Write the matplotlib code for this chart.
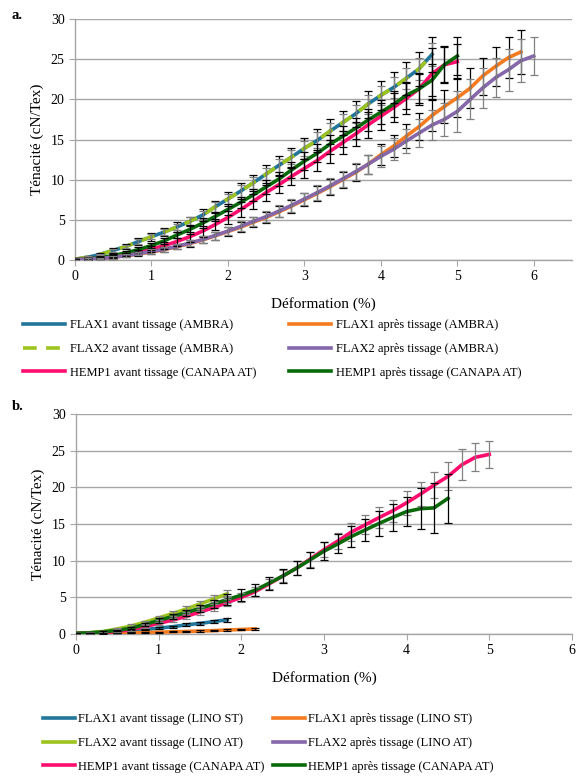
import matplotlib
matplotlib.use("Agg")
import matplotlib.pyplot as plt

plt.rcParams['font.family'] = ['Liberation Serif', 'DejaVu Serif']

# strain points (%), one every 1/6 %
x_pts = [0, 0.17, 0.33, 0.5, 0.67, 0.83, 1.0, 1.17, 1.33, 1.5, 1.67, 1.83,
         2.0, 2.17, 2.33, 2.5, 2.67, 2.83, 3.0, 3.17, 3.33, 3.5, 3.67, 3.83,
         4.0, 4.17, 4.33, 4.5, 4.67, 4.83, 5.0, 5.17, 5.33, 5.5, 5.67, 5.83, 6.0]

# ---- panel a: tenacity (cN/Tex) ----
a_flax1_av = [0.1, 0.35, 0.7, 1.2, 1.7, 2.3, 2.9, 3.5, 4.1, 4.8, 5.6, 6.6,
              7.6, 8.6, 9.6, 10.7, 11.8, 12.8, 13.9, 14.9, 16.0, 17.1, 18.2, 19.4,
              20.5, 21.5, 22.6, 23.8, 25.6]
a_flax2_av = [0.1, 0.35, 0.7, 1.2, 1.7, 2.3, 2.9, 3.5, 4.1, 4.8, 5.6, 6.6,
              7.6, 8.6, 9.6, 10.7, 11.8, 12.8, 13.9, 14.9, 16.0, 17.1, 18.2, 19.4,
              20.5, 21.5, 22.6, 23.8, 25.6]
a_hemp1_av = [0.05, 0.1, 0.2, 0.4, 0.65, 0.95, 1.35, 1.8, 2.3, 2.9, 3.6, 4.4,
              5.3, 6.3, 7.3, 8.4, 9.4, 10.4, 11.4, 12.4, 13.5, 14.6, 15.7, 16.8,
              17.9, 19.0, 20.1, 21.3, 23.2, 24.3, 24.7]
a_hemp1_ap = [0.1, 0.15, 0.3, 0.55, 0.9, 1.3, 1.8, 2.4, 3.1, 3.8, 4.6, 5.4,
              6.3, 7.2, 8.1, 9.1, 10.1, 11.2, 12.3, 13.3, 14.4, 15.4, 16.4, 17.4,
              18.4, 19.4, 20.5, 21.3, 22.4, 24.3, 25.4]
a_flax1_ap = [0.05, 0.1, 0.2, 0.35, 0.55, 0.75, 1.0, 1.3, 1.65, 2.05, 2.5, 3.0,
              3.55, 4.1, 4.7, 5.3, 6.0, 6.7, 7.5, 8.3, 9.1, 10.0, 10.9, 11.9,
              13.1, 14.2, 15.4, 16.6, 18.0, 19.1, 20.2, 21.4, 22.9, 24.1, 25.2, 25.9]
a_flax2_ap = [0.05, 0.1, 0.2, 0.35, 0.55, 0.8, 1.05, 1.35, 1.7, 2.1, 2.55, 3.05,
              3.6, 4.2, 4.8, 5.4, 6.1, 6.8, 7.6, 8.4, 9.2, 10.1, 11.0, 11.9,
              12.9, 13.8, 14.8, 15.8, 16.8, 17.5, 18.5, 20.0, 21.4, 22.7, 23.7, 24.8, 25.4]

a_err_flax1_av = [0.0, 0.1, 0.2, 0.3, 0.3, 0.4, 0.5, 0.5, 0.6, 0.6, 0.7, 0.8, 0.9, 1.0, 1.0,
                  1.1, 1.2, 1.2, 1.3, 1.4, 1.5, 1.5, 1.6, 1.7, 1.8, 1.9, 2.0, 2.1, 2.2]
a_err_flax2_av = [0.0, 0.1, 0.1, 0.2, 0.2, 0.3, 0.3, 0.4, 0.4, 0.5, 0.5, 0.6, 0.6, 0.7, 0.7,
                  0.8, 0.8, 0.9, 0.9, 1.0, 1.0, 1.1, 1.1, 1.2, 1.2, 1.3, 1.3, 1.4, 1.4]
a_err_hemp1_av = [0.0, 0.1, 0.1, 0.2, 0.2, 0.3, 0.4, 0.4, 0.5, 0.6, 0.6, 0.7, 0.8, 0.9, 0.9, 1.0,
                  1.1, 1.1, 1.2, 1.3, 1.4, 1.4, 1.5, 1.6, 1.7, 1.8, 1.9, 2.0, 3.2, 2.2, 2.2]
a_err_hemp1_ap = [0.0, 0.1, 0.1, 0.2, 0.2, 0.3, 0.3, 0.4, 0.4, 0.5, 0.6, 0.6, 0.7, 0.7, 0.8, 0.9,
                  0.9, 1.0, 1.1, 1.1, 1.2, 1.3, 1.3, 1.4, 1.5, 1.6, 1.7, 1.8, 2.0, 2.3, 2.4]
a_err_flax1_ap = [0.0, 0.1, 0.1, 0.2, 0.2, 0.2, 0.3, 0.3, 0.3, 0.4, 0.4, 0.5, 0.5, 0.6, 0.6, 0.7,
                  0.7, 0.8, 0.8, 0.9, 1.0, 1.0, 1.1, 1.2, 1.3, 1.4, 1.5, 1.7, 1.9, 2.1, 2.4, 2.5,
                  2.3, 2.4, 2.5, 2.7]
a_err_flax2_ap = [0.0, 0.1, 0.1, 0.2, 0.2, 0.2, 0.3, 0.3, 0.3, 0.4, 0.4, 0.5, 0.5, 0.6, 0.6, 0.7,
                  0.7, 0.8, 0.8, 0.9, 1.0, 1.0, 1.1, 1.2, 1.3, 1.4, 1.5, 1.7, 1.9, 2.1, 2.6, 2.5,
                  2.5, 2.4, 2.6, 2.7, 2.4]

# ---- panel b ----
b_flax1_av = [0.05, 0.1, 0.15, 0.25, 0.4, 0.6, 0.8, 1.0, 1.25, 1.45, 1.7, 1.95]
b_flax1_ap = [0.02, 0.05, 0.08, 0.12, 0.16, 0.2, 0.25, 0.3, 0.35, 0.4, 0.47, 0.55, 0.62, 0.7]
b_flax2_av = [0.1, 0.2, 0.35, 0.7, 1.1, 1.6, 2.2, 2.8, 3.4, 4.1, 4.8, 5.5]
b_flax2_ap = [0.1, 0.15, 0.3, 0.5, 0.8, 1.3, 1.85, 2.4, 2.9, 3.5, 4.1, 4.7]
b_hemp1_av = [0.05, 0.1, 0.2, 0.35, 0.6, 1.0, 1.45, 1.9, 2.4, 3.0, 3.6, 4.3,
              5.0, 5.8, 6.8, 7.9, 9.0, 10.2, 11.5, 12.7, 13.9, 14.9, 15.9, 16.8,
              17.9, 19.1, 20.3, 21.5, 23.1, 24.1, 24.5]
b_hemp1_ap = [0.1, 0.15, 0.3, 0.5, 0.8, 1.3, 1.85, 2.4, 2.9, 3.5, 4.1, 4.7,
              5.3, 6.0, 6.9, 7.9, 9.0, 10.1, 11.3, 12.3, 13.3, 14.2, 15.1, 15.9,
              16.7, 17.1, 17.2, 18.5]

b_err_flax1_av = [0.0, 0.05, 0.05, 0.1, 0.1, 0.1, 0.15, 0.15, 0.2, 0.2, 0.2, 0.25]
b_err_flax1_ap = [0.0, 0.02, 0.03, 0.04, 0.05, 0.06, 0.07, 0.08, 0.09, 0.1, 0.1, 0.12, 0.12, 0.15]
b_err_flax2_av = [0.0, 0.05, 0.1, 0.15, 0.2, 0.2, 0.3, 0.3, 0.4, 0.4, 0.5, 0.5]
b_err_flax2_ap = [0.0, 0.05, 0.1, 0.15, 0.2, 0.2, 0.3, 0.3, 0.4, 0.4, 0.5, 0.5]
b_err_hemp1_av = [0.0, 0.05, 0.1, 0.1, 0.15, 0.2, 0.25, 0.3, 0.35, 0.4, 0.5, 0.5, 0.6, 0.6, 0.7,
                  0.8, 0.9, 1.0, 1.0, 1.1, 1.2, 1.3, 1.4, 1.5, 1.6, 1.7, 1.8, 1.9, 2.1, 1.9, 1.8]
b_err_hemp1_ap = [0.0, 0.05, 0.1, 0.1, 0.15, 0.2, 0.3, 0.3, 0.4, 0.5, 0.6, 0.7, 0.8, 0.8,
                  0.9, 1.0, 1.0, 1.1, 1.2, 1.3, 1.4, 1.5, 1.7, 1.8, 2.0, 2.8, 3.4, 3.3]

BLUE = '#23769B'
LGREEN = '#9DC41E'
PINK = '#FF0D6E'
DGREEN = '#0A6A0A'
ORANGE = '#F47B20'
PURPLE = '#8567AA'
GRAY = '#808080'

fig = plt.figure(figsize=(5.81, 7.79), dpi=100)
ax_a = fig.add_axes([0.129, 0.6662, 0.8555, 0.3094])
ax_b = fig.add_axes([0.1308, 0.1861, 0.8537, 0.2824])


def draw(ax, y, err, color, label, ecolor='k', dashed=False):
    n = len(y)
    xx = x_pts[:n]
    if dashed:
        line, = ax.plot(xx, y, color=color, lw=2.6, label=label, dashes=(3.8, 2.6),
                        solid_capstyle='butt', zorder=3)
    else:
        line, = ax.plot(xx, y, color=color, lw=2.6, label=label, zorder=3)
    ax.errorbar(xx, y, yerr=err, fmt='none', ecolor=ecolor, elinewidth=0.9,
                capsize=3.2, capthick=0.9, zorder=4)
    return line


def style(ax, xmax):
    ax.set_xlim(0, xmax)
    ax.set_ylim(0, 30)
    ax.set_yticks([0, 5, 10, 15, 20, 25, 30])
    ax.set_xticks([0, 1, 2, 3, 4, 5, 6])
    ax.grid(axis='y', color='#A6A6A6', lw=1)
    ax.set_axisbelow(True)
    for s in ['top', 'right']:
        ax.spines[s].set_visible(False)
    for s in ['left', 'bottom']:
        ax.spines[s].set_color('#A6A6A6')
        ax.spines[s].set_linewidth(1)
    ax.tick_params(colors='#A6A6A6', labelcolor='black', labelsize=10, length=4)
    ax.set_xlabel('Déformation (%)', fontsize=11, labelpad=10)
    ax.set_ylabel('Ténacité (cN/Tex)', fontsize=11, labelpad=5)


# panel a
la1 = draw(ax_a, a_flax1_av, a_err_flax1_av, BLUE, 'FLAX1 avant tissage (AMBRA)')
la2 = draw(ax_a, a_flax2_av, a_err_flax2_av, LGREEN, 'FLAX2 avant tissage (AMBRA)', ecolor=GRAY, dashed=True)
la5 = draw(ax_a, a_hemp1_av, a_err_hemp1_av, PINK, 'HEMP1 avant tissage (CANAPA AT)')
la6 = draw(ax_a, a_hemp1_ap, a_err_hemp1_ap, DGREEN, 'HEMP1 après tissage (CANAPA AT)')
la3 = draw(ax_a, a_flax1_ap, a_err_flax1_ap, ORANGE, 'FLAX1 après tissage (AMBRA)')
la4 = draw(ax_a, a_flax2_ap, a_err_flax2_ap, PURPLE, 'FLAX2 après tissage (AMBRA)', ecolor=GRAY)
style(ax_a, 6.5)

# panel b
lb4 = draw(ax_b, b_flax2_ap, b_err_flax2_ap, PURPLE, 'FLAX2 après tissage (LINO AT)', ecolor=GRAY)
lb2 = draw(ax_b, b_flax2_av, b_err_flax2_av, LGREEN, 'FLAX2 avant tissage (LINO AT)', ecolor=GRAY)
lb1 = draw(ax_b, b_flax1_av, b_err_flax1_av, BLUE, 'FLAX1 avant tissage (LINO ST)')
lb3 = draw(ax_b, b_flax1_ap, b_err_flax1_ap, ORANGE, 'FLAX1 après tissage (LINO ST)')
lb5 = draw(ax_b, b_hemp1_av, b_err_hemp1_av, PINK, 'HEMP1 avant tissage (CANAPA AT)', ecolor=GRAY)
lb6 = draw(ax_b, b_hemp1_ap, b_err_hemp1_ap, DGREEN, 'HEMP1 après tissage (CANAPA AT)')
style(ax_b, 6)

fig.legend([la1, la2, la5, la3, la4, la6],
           [h.get_label() for h in [la1, la2, la5, la3, la4, la6]],
           loc='upper left', bbox_to_anchor=(0.0396, 0.5905), ncol=2,
           frameon=False, fontsize=9, handlelength=3.35, handletextpad=0.4,
           columnspacing=2.6, labelspacing=0.95, borderpad=0, borderaxespad=0)
fig.legend([lb1, lb2, lb5, lb3, lb4, lb6],
           [h.get_label() for h in [lb1, lb2, lb5, lb3, lb4, lb6]],
           loc='upper left', bbox_to_anchor=(0.074, 0.0847), ncol=2,
           frameon=False, fontsize=9, handlelength=2.55, handletextpad=0.25,
           columnspacing=0.7, labelspacing=0.95, borderpad=0, borderaxespad=0)

fig.text(0.02, 0.988, 'a.', fontsize=10.5, fontweight='bold', va='top')
fig.text(0.02, 0.487, 'b.', fontsize=10.5, fontweight='bold', va='top')

fig.savefig('out.png', dpi=100)
